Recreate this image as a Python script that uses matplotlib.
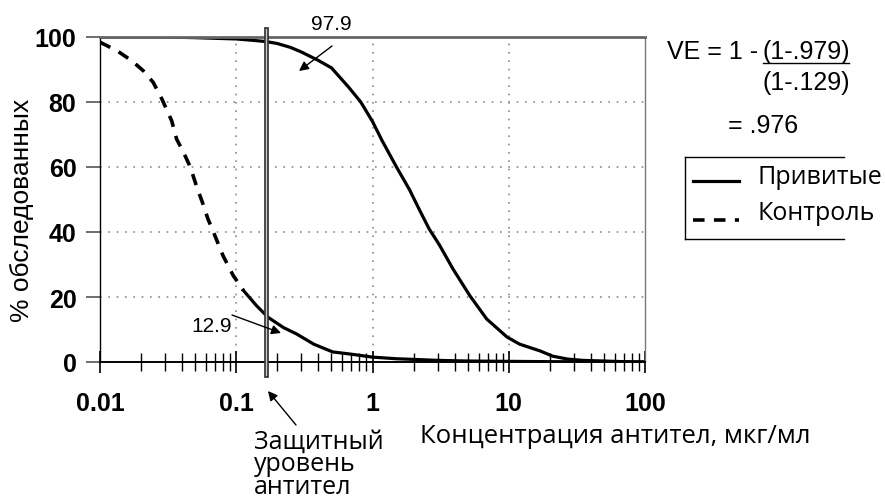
import numpy as np
import matplotlib.pyplot as plt
from matplotlib.ticker import FixedLocator, NullFormatter

# ---------------------------------------------------------------------
# Datos
# ---------------------------------------------------------------------
vacc_x = [0.01, 0.03, 0.05, 0.07, 0.1, 0.13, 0.165, 0.2, 0.25, 0.3, 0.4, 0.5,
          0.67, 0.82, 1.0, 1.18, 1.5, 1.87, 2.2, 2.6, 3.1, 3.9, 5.2, 6.9, 9.7,
          12, 17, 21, 27, 35, 50, 70, 100]
vacc_y = [100, 100, 99.8, 99.6, 99.4, 99.0, 98.6, 98.0, 96.8, 95.4, 92.8, 90.5,
          84.5, 80.0, 74.0, 68.0, 60.0, 53.0, 47.0, 41.0, 36.0, 28.6, 20.3, 13.2, 7.7,
          5.5, 3.4, 1.8, 0.9, 0.5, 0.3, 0.1, 0.0]

ctrl_x = [0.01, 0.0133, 0.0171, 0.0208, 0.0246, 0.0284, 0.0336, 0.0365, 0.041,
          0.046, 0.051, 0.057, 0.062, 0.068, 0.08, 0.095, 0.113, 0.141, 0.172,
          0.222, 0.278, 0.37, 0.51, 0.7, 1.0, 1.5, 2, 3, 5, 10, 20, 50, 100]
ctrl_y = [98.4, 95.8, 92.7, 89.6, 86.0, 81.0, 74.2, 68.6, 64.5, 60.0, 54.2, 48.6,
          44.0, 40.0, 32.7, 26.6, 22.0, 17.3, 13.7, 10.6, 8.6, 5.5, 3.1, 2.4, 1.5,
          1.0, 0.8, 0.5, 0.3, 0.2, 0.1, 0.05, 0.0]

protective_level = 0.165
x_major = [0.01, 0.1, 1, 10, 100]
x_major_labels = ["0.01", "0.1", "1", "10", "100"]
y_ticks = [0, 20, 40, 60, 80, 100]

# ---------------------------------------------------------------------
# Figura
# ---------------------------------------------------------------------
W, H = 885, 502
fig = plt.figure(figsize=(W / 100, H / 100), dpi=100)
ax = fig.add_axes([100 / W, 1 - 363 / H, 545 / W, 325 / H])

ax.set_xscale("log")
ax.set_xlim(0.01, 100)
ax.set_ylim(0, 100)

ax.plot(vacc_x, vacc_y, color="black", lw=2.3, solid_joinstyle="round")
ctrl_x = np.array(ctrl_x)
ctrl_y = np.array(ctrl_y)
head = ctrl_x <= 0.12
ax.plot(ctrl_x[head], ctrl_y[head], color="black", lw=2.6, dashes=(3.2, 2.6))
tail = ctrl_x >= 0.11
ax.plot(ctrl_x[tail], ctrl_y[tail], color="black", lw=2.3)

# rejilla punteada
for gx in [0.1, 1, 10]:
    ax.axvline(gx, color="#8a8a8a", lw=1.2, ls=(0, (1, 4)), zorder=0)
for gy in [20, 40, 60, 80]:
    ax.axhline(gy, color="#8a8a8a", lw=1.2, ls=(0, (1, 4)), zorder=0)

# línea doble del nivel protector
ax.plot([protective_level] * 2, [-0.04, 1.025], color="#303030", lw=3.4,
        transform=ax.get_xaxis_transform(), clip_on=False, zorder=3)
ax.plot([protective_level] * 2, [-0.04, 1.025], color="#c8c8c8", lw=1.0,
        transform=ax.get_xaxis_transform(), clip_on=False, zorder=3)

# ejes
ax.spines["top"].set_color("#666666")
ax.spines["top"].set_linewidth(2.0)
ax.spines["right"].set_color("#777777")
ax.spines["right"].set_linewidth(1.0)
ax.spines["left"].set_linewidth(1.0)
ax.spines["bottom"].set_linewidth(1.4)

ax.xaxis.set_major_locator(FixedLocator(x_major))
minors = [m * 10.0 ** e for e in range(-2, 2) for m in range(2, 10)]
ax.xaxis.set_minor_locator(FixedLocator(minors))
ax.xaxis.set_minor_formatter(NullFormatter())
ax.set_xticklabels(x_major_labels)
ax.tick_params(axis="x", which="major", direction="inout", length=16, width=1.2,
               pad=13, labelsize=18)
ax.tick_params(axis="x", which="minor", direction="inout", length=13, width=1.0)
ax.set_yticks(y_ticks)
ax.tick_params(axis="y", direction="out", length=10, width=1.2, color="#555555",
               pad=7, labelsize=18)
for lab in ax.get_xticklabels() + ax.get_yticklabels():
    lab.set_fontweight("bold")
    lab.set_family("Liberation Sans")

ax.set_ylabel("% обследованных", family="Liberation Sans", fontsize=19)
ax.yaxis.set_label_coords(-66 / 545, 0.47)

# ---------------------------------------------------------------------
# Capa de anotaciones en píxeles
# ---------------------------------------------------------------------
ov = fig.add_axes([0, 0, 1, 1], facecolor="none")
ov.set_xlim(0, W)
ov.set_ylim(H, 0)
ov.axis("off")

ov.text(615, 437, "Концентрация антител, мкг/мл", family="Open Sans", fontsize=18.5,
        ha="center", va="center")
ov.text(254, 430, "Защитный\nуровень\nантител", family="Open Sans", fontsize=18,
        ha="left", va="top", linespacing=0.86)

arrow = dict(arrowstyle="-|>", lw=1.0, color="black", mutation_scale=14,
             shrinkA=0, shrinkB=0)
ov.text(331, 24, "97.9", family="Liberation Sans", fontsize=15, ha="center", va="center")
ov.annotate("", xy=(299, 72), xytext=(332, 47), arrowprops=arrow)
ov.text(212, 327, "12.9", family="Liberation Sans", fontsize=15, ha="center", va="center")
ov.annotate("", xy=(281, 334), xytext=(232, 316), arrowprops=arrow)
ov.annotate("", xy=(268, 392), xytext=(296, 426), arrowprops=arrow)

# fórmula VE
ov.text(667, 52, "VE = 1 -", family="Liberation Sans", fontsize=18,
        ha="left", va="center")
ov.text(763, 52, "(1-.979)", family="Liberation Sans", fontsize=18,
        ha="left", va="center")
ov.plot([763, 849], [64, 64], color="black", lw=1.0)
ov.text(762, 83, "(1-.129)", family="Liberation Sans", fontsize=18, ha="left", va="center")
ov.text(728, 126, "= .976", family="Liberation Sans", fontsize=18, ha="left", va="center")

# leyenda
ov.plot([685, 685], [158, 240], color="black", lw=1.0)
ov.plot([685, 844], [158, 158], color="black", lw=1.0)
ov.plot([685, 844], [240, 240], color="black", lw=1.0)
ov.plot([693, 739], [182, 182], color="black", lw=2.3)
ov.plot([693, 739], [221, 221], color="black", lw=2.6, dashes=(3.2, 2.6))
ov.text(758, 178, "Привитые", family="Open Sans", fontsize=18, ha="left", va="center")
ov.text(758, 214, "Контроль", family="Open Sans", fontsize=18, ha="left", va="center")

fig.savefig("out.png", dpi=100)
